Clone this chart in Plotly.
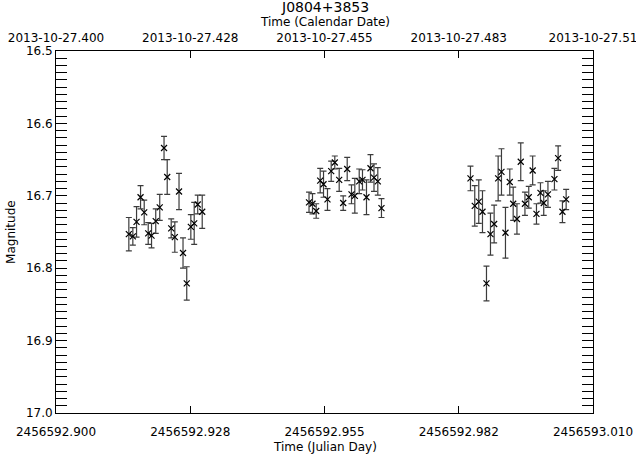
import plotly.graph_objects as go

# ---------------- data ----------------
jd_group1 = [2456592.91492, 2456592.91574, 2456592.91650, 2456592.91732, 2456592.91807,
             2456592.91889, 2456592.91957, 2456592.92043, 2456592.92125, 2456592.92213,
             2456592.92278, 2456592.92360, 2456592.92434, 2456592.92520, 2456592.92602,
             2456592.92678, 2456592.92762, 2456592.92831, 2456592.92903, 2456592.92995]
mag_group1 = [16.753, 16.756, 16.736, 16.702, 16.723, 16.752, 16.755, 16.735, 16.716, 16.634,
              16.674, 16.745, 16.757, 16.694, 16.779, 16.821, 16.743, 16.738, 16.712, 16.722]
err_group1 = [0.023, 0.012, 0.021, 0.016, 0.017, 0.015, 0.017, 0.017, 0.018, 0.016,
              0.024, 0.013, 0.021, 0.025, 0.021, 0.023, 0.017, 0.029, 0.013, 0.023]

jd_group2 = [2456592.95183, 2456592.95254, 2456592.95330, 2456592.95412, 2456592.95480,
             2456592.95561, 2456592.95637, 2456592.95711, 2456592.95801, 2456592.95883,
             2456592.95965, 2456592.96053, 2456592.96121, 2456592.96211, 2456592.96278,
             2456592.96360, 2456592.96442, 2456592.96514, 2456592.96592, 2456592.96667]
mag_group2 = [16.709, 16.711, 16.721, 16.679, 16.684, 16.705, 16.666, 16.654, 16.678, 16.710,
              16.663, 16.698, 16.700, 16.680, 16.678, 16.702, 16.662, 16.675, 16.680, 16.717]
err_group2 = [0.014, 0.014, 0.010, 0.017, 0.018, 0.015, 0.014, 0.009, 0.016, 0.010,
              0.016, 0.013, 0.024, 0.017, 0.014, 0.024, 0.019, 0.019, 0.019, 0.013]

jd_group3 = [2456592.98490, 2456592.98578, 2456592.98660, 2456592.98736, 2456592.98818,
             2456592.98900, 2456592.98975, 2456592.99057, 2456592.99125, 2456592.99207,
             2456592.99295, 2456592.99365, 2456592.99442, 2456592.99520, 2456592.99606,
             2456592.99684, 2456592.99764, 2456592.99842, 2456592.99924, 2456592.99991,
             2456593.00077, 2456593.00210, 2456593.00286, 2456593.00374, 2456593.00450]
mag_group3 = [16.676, 16.714, 16.708, 16.722, 16.821, 16.753, 16.739, 16.676, 16.667, 16.751,
              16.681, 16.711, 16.732, 16.653, 16.711, 16.702, 16.665, 16.725, 16.696, 16.710,
              16.698, 16.677, 16.648, 16.722, 16.705]
err_group3 = [0.017, 0.028, 0.030, 0.029, 0.024, 0.029, 0.026, 0.031, 0.032, 0.035,
              0.018, 0.023, 0.021, 0.026, 0.016, 0.015, 0.020, 0.014, 0.014, 0.017,
              0.018, 0.015, 0.017, 0.015, 0.014]

jd = jd_group1 + jd_group2 + jd_group3
mag = mag_group1 + mag_group2 + mag_group3
err = err_group1 + err_group2 + err_group3

jd_ticks = [2456592.900, 2456592.9275, 2456592.955, 2456592.9825, 2456593.010]
jd_tick_labels = ["2456592.900", "2456592.928", "2456592.955", "2456592.982", "2456593.010"]
date_tick_labels = ["2013-10-27.400", "2013-10-27.428", "2013-10-27.455", "2013-10-27.483", "2013-10-27.51"]
mag_ticks = [16.5, 16.6, 16.7, 16.8, 16.9, 17.0]
mag_tick_labels = ["16.5", "16.6", "16.7", "16.8", "16.9", "17.0"]

x_range = [2456592.900, 2456593.010]
y_range = [17.0, 16.5]

FONT = "DejaVu Sans"

fig = go.Figure()
fig.add_trace(go.Scatter(
    x=jd, y=mag, mode="markers",
    marker=dict(symbol="x-thin", size=6, color="black", line=dict(width=1.2, color="black")),
    error_y=dict(type="data", array=err, visible=True, color="#3c3c3c", thickness=1.2, width=3),
    showlegend=False, hoverinfo="skip",
))
# invisible trace to activate the top (calendar) axis
fig.add_trace(go.Scatter(
    x=[jd[0]], y=[mag[0]], xaxis="x2", mode="markers",
    marker=dict(opacity=0), showlegend=False, hoverinfo="skip",
))

axis_common = dict(showgrid=False, zeroline=False, showline=True, linecolor="black",
                   linewidth=1, ticks="inside", tickcolor="black", tickwidth=1,
                   automargin=False, ticklabeloverflow="allow",
                   tickfont=dict(family=FONT, size=12, color="black"))

fig.update_layout(
    width=636, height=454,
    margin=dict(l=56, r=43, t=51, b=41),
    plot_bgcolor="white", paper_bgcolor="white",
    font=dict(family=FONT, size=12, color="black"),
    xaxis=dict(range=x_range, tickmode="array", tickvals=jd_ticks, ticktext=jd_tick_labels,
               ticklen=7, mirror=False, ticklabelstandoff=8, **axis_common),
    xaxis2=dict(range=x_range, overlaying="x", side="top", anchor="y", tickmode="array",
                tickvals=jd_ticks, ticktext=date_tick_labels, ticklen=7,
                ticklabelstandoff=3, **axis_common),
    yaxis=dict(range=y_range, tickmode="array", tickvals=mag_ticks, ticktext=mag_tick_labels,
               ticklen=11, mirror="allticks",
               minor=dict(dtick=0.01, ticks="inside", ticklen=5, tickcolor="black", showgrid=False),
               **axis_common),
    annotations=[
        dict(text="J0804+3853", xref="paper", yref="paper", x=0.5, y=1.1215, showarrow=False,
             yanchor="middle", font=dict(family=FONT, size=14, color="black")),
        dict(text="Time (Calendar Date)", xref="paper", yref="paper", x=0.5, y=1.079,
             showarrow=False, yanchor="middle", font=dict(family=FONT, size=12, color="black")),
        dict(text="Time (Julian Day)", xref="paper", yref="paper", x=0.5, y=-0.094,
             showarrow=False, yanchor="middle", font=dict(family=FONT, size=12, color="black")),
        dict(text="Magnitude", xref="paper", yref="paper", x=-0.084, y=0.5, textangle=-90,
             showarrow=False, xanchor="center", yanchor="middle",
             font=dict(family=FONT, size=12, color="black")),
    ],
)

fig.write_html("out.html")
